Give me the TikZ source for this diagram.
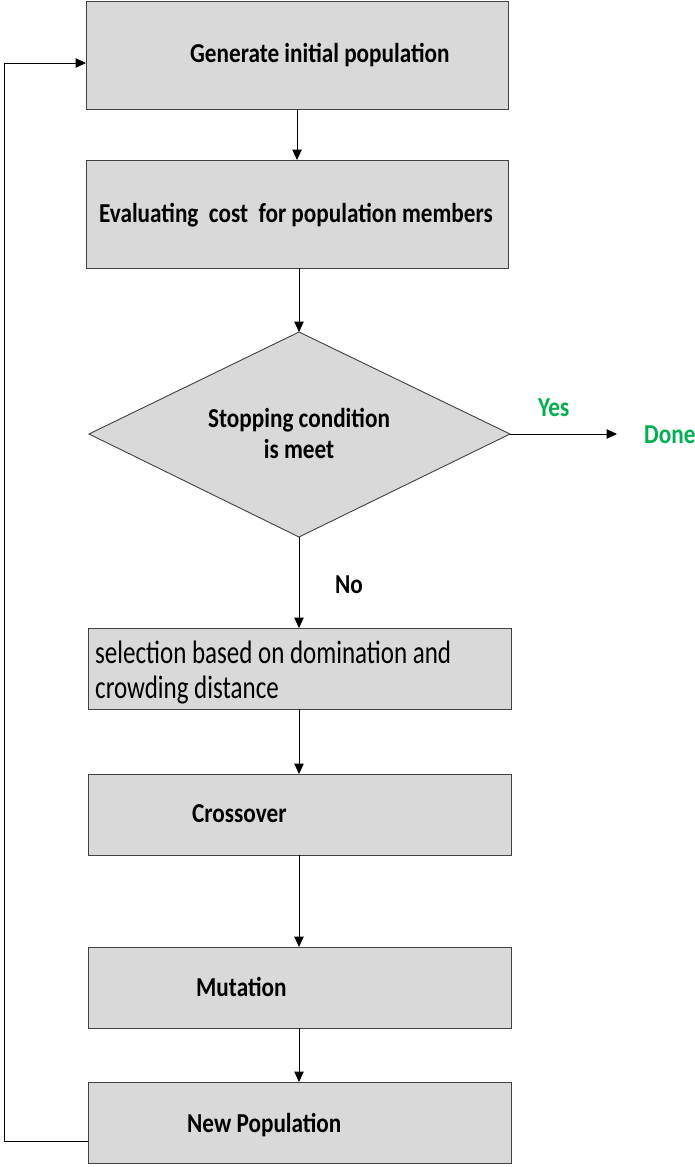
\documentclass[tikz,border=0pt]{standalone}
\usepackage{fontspec}
\setmainfont{Carlito}
\usetikzlibrary{arrows.meta,shapes.geometric}
\definecolor{boxgray}{HTML}{D9D9D9}
\definecolor{yesgreen}{HTML}{00B050}
\newcommand{\bt}[1]{\scalebox{1}[1.18]{\fontsize{23.2}{28}\selectfont\bfseries #1}}
\newcommand{\rt}[1]{\scalebox{1}[1.3]{\fontsize{25}{30}\selectfont #1}}
\tikzset{
  procbox/.style={draw=black!75, fill=boxgray, line width=0.9pt},
  lab/.style={inner sep=0pt, anchor=base west},
  clab/.style={inner sep=0pt, anchor=base},
  conn/.style={draw=black, line width=1pt, -{Triangle[length=10.5pt,width=9.5pt]}},
  greenlab/.style={text=yesgreen, inner sep=0pt, anchor=base west}
}
\begin{document}
\begin{tikzpicture}[x=1pt,y=-1pt]
\useasboundingbox (0,0) rectangle (694,1167);
% boxes
\draw[procbox] (86,1) rectangle (508,109);
\node[lab] (t1) at (190,62) {\bt{Generate initial population}};
\draw[procbox] (86,160) rectangle (508,268);
\node[lab] (t2) at (99,222) {\bt{Evaluating\ \ cost\ \ for population members}};
\draw[procbox] (89,434) -- (299,332) -- (510,434) -- (299,537) -- cycle;
\node[clab] (t3a) at (299,427) {\bt{Stopping condition}};
\node[clab] (t3b) at (299,458) {\bt{is meet}};
\draw[procbox] (88,628) rectangle (511,709);
\node[lab] (t4a) at (95,663) {\rt{selection based on domination and}};
\node[lab] (t4b) at (95,698) {\rt{crowding distance}};
\draw[procbox] (88,774) rectangle (511,855);
\node[lab] (t5) at (192,822) {\bt{Crossover}};
\draw[procbox] (88,947) rectangle (511,1028);
\node[lab] (t6) at (196,996) {\bt{Mutation}};
\draw[procbox] (88,1082) rectangle (511,1163);
\node[lab] (t7) at (187,1132) {\bt{New Population}};
% connectors
\coordinate (a1) at (297,109); \coordinate (a2) at (297,160);
\draw[conn] (a1) -- (a2);
\coordinate (a3) at (299,268); \coordinate (a4) at (299,332);
\draw[conn] (a3) -- (a4);
\coordinate (a5) at (299,537); \coordinate (a6) at (299,628);
\draw[conn] (a5) -- (a6);
\coordinate (a7) at (299,709); \coordinate (a8) at (299,774);
\draw[conn] (a7) -- (a8);
\coordinate (a9) at (299,855); \coordinate (a10) at (299,947);
\draw[conn] (a9) -- (a10);
\coordinate (a11) at (299,1028); \coordinate (a12) at (299,1082);
\draw[conn] (a11) -- (a12);
\coordinate (y1) at (510,434); \coordinate (y2) at (617,434);
\draw[conn] (y1) -- (y2);
\node[greenlab] (yes) at (538,416) {\bt{Yes}};
\node[greenlab] (done) at (644,443) {\bt{Done}};
\node[lab] (no) at (335,593) {\bt{No}};
\coordinate (f1) at (88,1141); \coordinate (f2) at (4,1141); \coordinate (f3) at (4,63); \coordinate (f4) at (86,63);
\draw[conn] (f1) -- (f2) -- (f3) -- (f4);
\end{tikzpicture}
\end{document}
